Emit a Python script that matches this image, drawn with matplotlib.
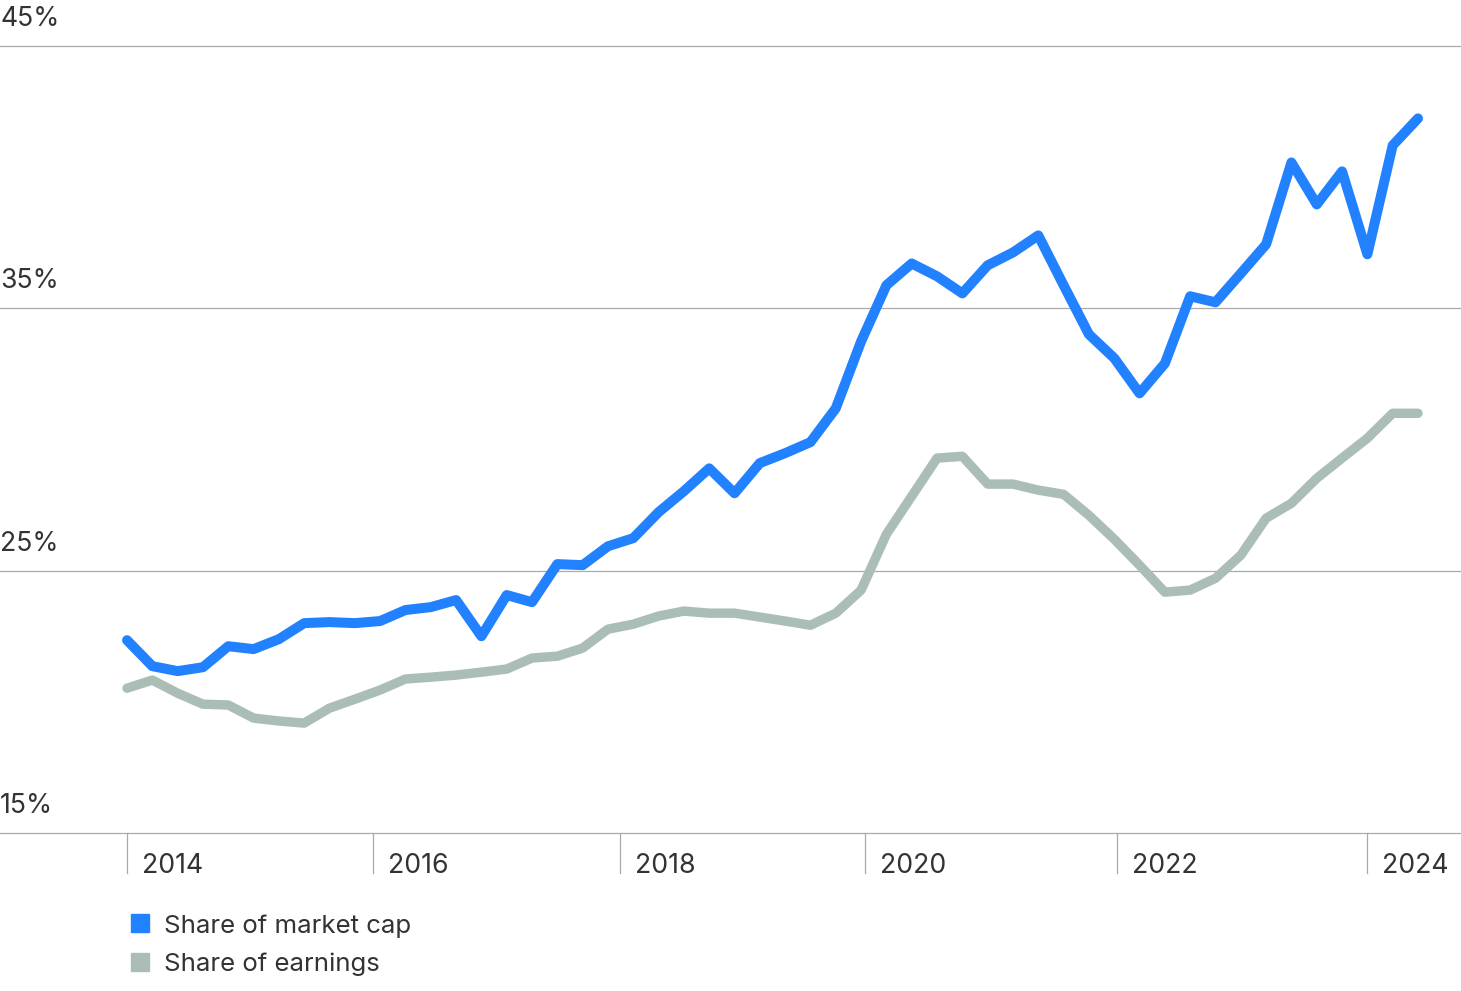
import matplotlib.pyplot as plt
import matplotlib.transforms as mtransforms
from matplotlib.lines import Line2D

# share of index, in percent, one point per period
market_cap = [22.35, 21.36, 21.17, 21.32, 22.12, 22.01, 22.39, 23.0, 23.04, 23.0,
              23.08, 23.5, 23.61, 23.88, 22.5, 24.07, 23.8, 25.25, 25.21, 25.93,
              26.24, 27.23, 28.03, 28.9, 27.95, 29.1, 29.48, 29.9, 31.19, 33.74,
              35.88, 36.71, 36.22, 35.57, 36.64, 37.13, 37.78, 35.88, 34.01, 33.1,
              31.76, 32.9, 35.46, 35.23, 36.33, 37.44, 40.56, 38.96, 40.22, 37.06,
              41.21, 42.24]
earnings = [20.52, 20.83, 20.33, 19.91, 19.88, 19.38, 19.27, 19.19, 19.76, 20.1,
            20.45, 20.87, 20.94, 21.02, 21.13, 21.25, 21.67, 21.74, 22.05, 22.77,
            22.96, 23.27, 23.46, 23.38, 23.38, 23.23, 23.08, 22.92, 23.38, 24.26,
            26.39, 27.84, 29.29, 29.36, 28.3, 28.3, 28.07, 27.91, 27.11, 26.2,
            25.21, 24.18, 24.26, 24.71, 25.59, 27.0, 27.57, 28.52, 29.29, 30.05,
            31.0, 31.0]
year_labels = ['2014', '2016', '2018', '2020', '2022', '2024']
year_pos = [0, 9.72, 19.48, 29.16, 39.11, 48.99]
y_ticks = [15, 25, 35, 45]

BLUE = '#2181ff'
GRAY = '#abbeb5'
TEXT = '#333333'
GRID = '#aaaaaa'
FS = 19.2

plt.rcParams['font.family'] = ['Inter', 'DejaVu Sans']

W, H = 1461, 991
fig = plt.figure(figsize=(W / 100, H / 100), dpi=100)
ax = fig.add_axes([0, (H - 833) / H, 1, (833 - 46) / H])

x = list(range(len(market_cap)))
ax.plot(x, earnings, color=GRAY, lw=6.8, solid_capstyle='round',
        solid_joinstyle='round', clip_on=False, zorder=3)
ax.plot(x, market_cap, color=BLUE, lw=7.2, solid_capstyle='round',
        solid_joinstyle='round', clip_on=False, zorder=4)

ax.set_xlim(-127 / 25.31, 51 + 43 / 25.31)
ax.set_ylim(15, 45)

for s in ax.spines.values():
    s.set_visible(False)
ax.set_xticks([])
ax.set_yticks([])

for v in y_ticks:
    ax.axhline(v, color=GRID, lw=0.9, zorder=1, clip_on=False)

# y labels sit above their gridlines at the left edge
trans = mtransforms.blended_transform_factory(ax.transAxes, ax.transData)
ytrans = mtransforms.offset_copy(trans, fig=fig, x=0, y=14, units='dots')
for v in y_ticks:
    ax.text(0, v, f'{v}%', transform=ytrans, ha='left', va='bottom',
            fontsize=FS, color=TEXT)

# year tick marks hang below the axis with labels to their right
xtrans = mtransforms.blended_transform_factory(ax.transData, fig.transFigure)
off = mtransforms.offset_copy(xtrans, fig=fig, x=15, y=-2, units='dots')
for pos, lab in zip(year_pos, year_labels):
    ax.add_artist(Line2D([pos, pos], [(H - 833) / H, (H - 873) / H],
                         transform=xtrans, color=GRID, lw=0.9, clip_on=False))
    ax.text(pos, (H - 864) / H, lab, transform=off, ha='left', va='center',
            fontsize=FS, color=TEXT)

handles = [Line2D([], [], ls='none', marker='s', markersize=13, color=BLUE),
           Line2D([], [], ls='none', marker='s', markersize=13, color=GRAY)]
fig.legend(handles, ['Share of market cap', 'Share of earnings'],
           loc='upper left', bbox_to_anchor=(128 / W, 1 - 914 / H),
           frameon=False, handlelength=0.9, handletextpad=0.5,
           labelspacing=0.58, borderpad=0, borderaxespad=0,
           prop={'size': 18.6}, labelcolor=TEXT)

fig.savefig('out.png', dpi=100)
